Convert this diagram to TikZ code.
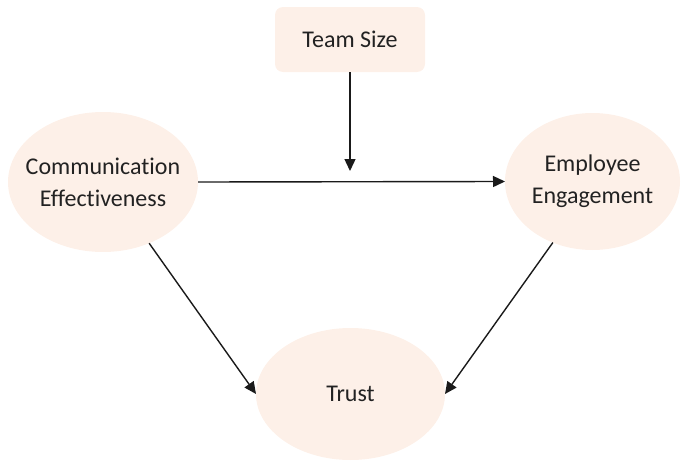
\documentclass[tikz,border=0pt]{standalone}
\usepackage{fontspec}
\setmainfont{Carlito}[Ligatures=NoCommon]
\usetikzlibrary{shapes.geometric,arrows.meta}
\definecolor{softpeach}{HTML}{FDF0E8}
\definecolor{inkgray}{HTML}{222222}
\definecolor{linegray}{HTML}{1A1A1A}
\begin{document}
\begin{tikzpicture}[x=1pt,y=-1pt,
  boxnode/.style={draw=none,fill=softpeach,rounded corners=8pt,minimum width=150pt,minimum height=65pt,inner sep=0pt,outer sep=0pt},
  oval/.style={ellipse,draw=none,fill=softpeach,inner sep=0pt,outer sep=0pt},
  lbl/.style={text=inkgray,align=center,font=\fontsize{24}{32}\selectfont,inner sep=0pt},
  arr/.style={draw=linegray,line width=1.4pt,-{Triangle[length=12pt,width=11pt]}}
]
\useasboundingbox (0,0) rectangle (681,463);

% shapes
\node[boxnode] (team) at (350,39.5) {};
\node[oval,minimum width=190pt,minimum height=140pt] (comm) at (103,182) {};
\node[oval,minimum width=175pt,minimum height=137pt] (eng) at (592.5,181.5) {};
\node[oval,minimum width=189pt,minimum height=132pt] (trust) at (350.5,394) {};

% labels
\node[lbl] (teamtxt) at (team) {Team Size};
\node[lbl] (commtxt) at (comm) {Communication\\Effectiveness};
\node[lbl] (engtxt) at (eng) {Employee\\Engagement};
\node[lbl] (trusttxt) at (trust) {Trust};

% connectors
\coordinate (drop) at (350,171);
\draw[arr] (team) -- (drop);
\draw[arr] (comm.east) -- (eng.west);
\draw[arr] (comm.-53) -- (trust.west);
\draw[arr] (eng.-123) -- (trust.east);
\end{tikzpicture}
\end{document}
